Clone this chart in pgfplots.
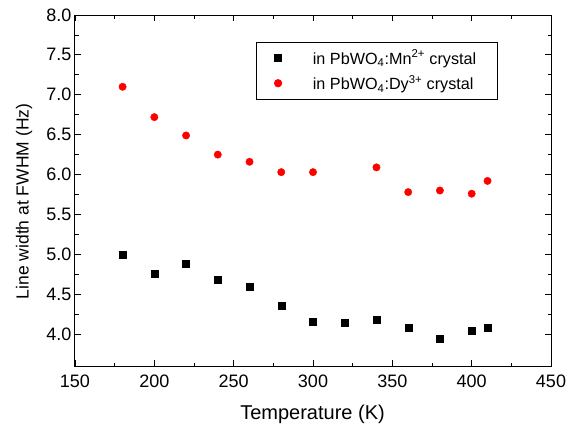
\documentclass[border=0pt]{standalone}
\usepackage{fontspec}
\setmainfont{Liberation Sans}
\usepackage{pgfplots}
\pgfplotsset{compat=1.18}
\begin{document}
\begin{tikzpicture}
\useasboundingbox (-75pt,-65pt) rectangle (502pt,366pt);
\begin{axis}[
  at={(0pt,0pt)}, anchor=south west,
  scale only axis, width=476pt, height=351pt,
  xmin=150, xmax=450, ymin=3.6, ymax=8.0,
  xtick={150,200,250,300,350,400,450},
  ytick={4.0,4.5,5.0,5.5,6.0,6.5,7.0,7.5,8.0},
  minor tick num=1,
  tick align=inside,
  major tick length=6pt, minor tick length=3.5pt,
  axis line style={line width=1pt},
  every tick/.style={line width=0.8pt, black},
  /pgf/number format/assume math mode=true,
  yticklabel style={/pgf/number format/fixed, /pgf/number format/fixed zerofill, /pgf/number format/precision=1},
  xticklabel style={/pgf/number format/fixed, /pgf/number format/precision=0, yshift=-5pt},
  ticklabel style={font=\fontsize{18}{21}\selectfont},
  xlabel={Temperature (K)},
  ylabel={Line width at FWHM (Hz)},
  xlabel style={font=\fontsize{20}{24}\selectfont, at={(axis description cs:0.499,-0.137)}, anchor=center},
  ylabel style={font=\fontsize{17.5}{21}\selectfont, at={(axis description cs:-0.107,0.469)}, anchor=center},
  legend style={at={(axis description cs:0.3796,0.924)}, anchor=north west,
    draw=black, line width=0.8pt, font=\fontsize{16.2}{19}\selectfont,
    inner xsep=2pt, inner ysep=6pt, row sep=5.6pt,
    nodes={inner ysep=2pt},
    cells={anchor=west}},
  legend image code/.code={\path (0pt,0pt) (52pt,0pt); \draw[#1] plot coordinates {(19.6pt,0pt)};},
]
\addplot[only marks, mark=square*, mark size=3.5pt, color=black] coordinates {
(180,5.00)(200,4.76)(220,4.88)(240,4.68)(260,4.60)(280,4.36)(300,4.16)(320,4.14)(340,4.18)(360,4.08)(380,3.94)(400,4.04)(410,4.08)
};
\addlegendentry{in PbWO\textsubscript{4}:Mn\textsuperscript{2+} crystal\hspace*{17pt}}
\addplot[only marks, mark=*, mark size=3.7pt, color=red] coordinates {
(180,7.10)(200,6.72)(220,6.49)(240,6.25)(260,6.16)(280,6.03)(300,6.03)(340,6.09)(360,5.78)(380,5.80)(400,5.76)(410,5.92)
};
\addlegendentry{in PbWO\textsubscript{4}:Dy\textsuperscript{3+} crystal}
\end{axis}
\end{tikzpicture}
\end{document}
